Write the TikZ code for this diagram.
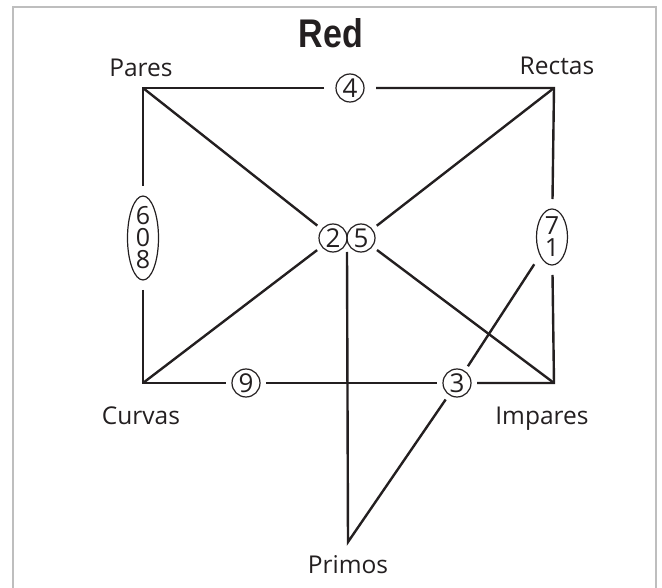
\documentclass[tikz,border=0pt]{standalone}
\usepackage{fontspec}
\setmainfont{Open Sans}
\newfontfamily\titlefont{Liberation Sans}[FakeStretch=0.85]
\usepackage{tikz}
\definecolor{redInk}{HTML}{231F20}
\definecolor{redFrame}{HTML}{BEBEBE}
\usetikzlibrary{shapes, positioning, calc}

\begin{document}
\begin{tikzpicture}[
    x=1pt, y=-1pt,
    node distance=12pt,
    lbl/.style={inner sep=0pt, text=redInk, font=\fontsize{24.5}{28}\selectfont},
    num/.style={circle, draw=redInk, line width=1.2pt, minimum size=28pt, inner sep=0pt, outer sep=6pt, text=redInk, font=\fontsize{26}{22}\selectfont},
    numset/.style={ellipse, draw=redInk, line width=1.2pt, minimum width=31pt, inner xsep=0pt, inner ysep=-20pt, outer sep=10pt, align=center, text=redInk, font=\fontsize{25}{22}\selectfont},
    link/.style={line width=2.4pt, draw=redInk, line join=miter}
]
    \useasboundingbox (0,0) rectangle (662,588);
    \draw[redFrame, line width=2pt] (13,588) -- (13,7) -- (656,7) -- (656,588);

    % Nodes
    \node[anchor=base, text=redInk, font=\titlefont\bfseries\fontsize{40}{44}\selectfont] (title) at (331,48) {Red};

    \coordinate (pares) at (143,88);
    \coordinate (rectas) at (554,88);
    \coordinate (curvas) at (143,383);
    \coordinate (impares) at (554,383);
    \coordinate (primos) at (348,542);

    \node[lbl, above=11pt of pares, xshift=-2pt] (parestxt) {Pares};
    \node[lbl, above=13pt of rectas, xshift=3pt] (rectastxt) {Rectas};
    \node[lbl, below=24pt of curvas, xshift=-2pt] (curvastxt) {Curvas};
    \node[lbl, below=24pt of impares, xshift=-12pt] (imparestxt) {Impares};
    \node[lbl, below=13pt of primos] (primostxt) {Primos};

    \node[num, outer sep=12pt] (n4) at (350,88) {4};
    \node[num] (n2) at (333,238) {2};
    \node[num] (n5) at (361,238) {5};
    \node[num] (n9) at (246,383) {9};
    \node[num] (n3) at (457,383) {3};
    \node[numset, minimum height=84pt] (n608) at (143,238) {6\\0\\8};
    \node[numset, minimum height=56pt] (n71) at (552,237) {7\\1};

    \coordinate (junc) at ($(n2.center)!0.5!(n5.center)+(0,14)$);

    % Connections
    \draw[link] (n4) -- (pares) -- (n608);
    \draw[link] (n4) -- (rectas) -- (n71);
    \draw[link] (n608) -- (curvas) -- (n9);
    \draw[link] (n71) -- (impares) -- (n3);
    \draw[link] (n9) -- (n3);
    \draw[link] (pares) -- (n2);
    \draw[link] (curvas) -- (n2);
    \draw[link] (rectas) -- (n5);
    \draw[link] (impares) -- (n5);
    \draw[link] (junc) -- (primos) -- (n3);
    \draw[link] (n3) -- (n71);

\end{tikzpicture}
\end{document}
